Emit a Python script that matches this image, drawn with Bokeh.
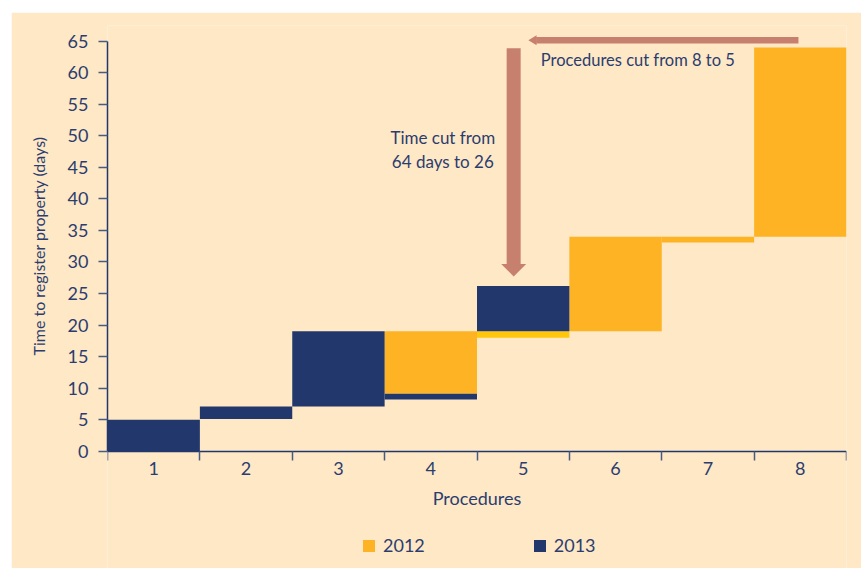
from bokeh.plotting import figure
from bokeh.models import Range1d, FixedTicker, Legend, LegendItem, ColumnDataSource, Title
from bokeh.core.properties import value
from bokeh.embed import file_html
from bokeh.resources import INLINE

# ---- data ----
procedures = [1, 2, 3, 4, 5, 6, 7, 8]
y_ticks = [0, 5, 10, 15, 20, 25, 30, 35, 40, 45, 50, 55, 60, 65]

# 2012 floating bars (bottom, top) by procedure
p2012_proc = [4, 5, 6, 7, 8]
p2012_bottom = [9.1, 18.0, 19.0, 33.1, 34.0]
p2012_top = [19.0, 19.0, 34.0, 34.0, 64.0]

# 2013 floating bars
p2013_proc = [1, 2, 3, 4, 5]
p2013_bottom = [0.0, 5.1, 7.1, 8.2, 19.0]
p2013_top = [5.0, 7.1, 19.0, 9.1, 26.2]

series = ["2012", "2013"]
y_title = "Time to register property (days)"

# ---- styles ----
BG = "#FEE8C6"
YELLOW = "#FDB323"
YELLOW_STRIP = "#FFC60B"
NAVY = "#22376B"
TEXT = "#2B3D6F"
ARROW = "#C8806E"
FONT = "Lato"

# frame extends below zero so that the x axis (pinned at y=0) and legend fit inside it
p = figure(width=850, height=556, output_backend="svg", toolbar_location=None,
           x_range=Range1d(0.5, 8.5), y_range=Range1d(-18.6, 67.5),
           min_border_left=96, min_border_right=15, min_border_top=13,
           min_border_bottom=0)
p.styles = {"margin-left": "11px", "margin-top": "12px"}
p.background_fill_color = BG
p.border_fill_color = BG
p.outline_line_color = None
p.grid.visible = False

c2012 = [YELLOW_STRIP if b == 18.0 else YELLOW for b in p2012_bottom]
src12 = ColumnDataSource(dict(x=p2012_proc, bottom=p2012_bottom, top=p2012_top, color=c2012))
src13 = ColumnDataSource(dict(x=p2013_proc, bottom=p2013_bottom, top=p2013_top))

r12 = p.vbar(x="x", bottom="bottom", top="top", width=1.0, source=src12,
             fill_color="color", line_color=None)
r13 = p.vbar(x="x", bottom="bottom", top="top", width=1.0, source=src13,
             fill_color=NAVY, line_color=None)

# axes
xa = p.xaxis[0]
xa.fixed_location = 0
xa.ticker = FixedTicker(ticks=procedures, minor_ticks=[v - 0.5 for v in procedures] + [8.5])
xa.major_tick_out = 0
xa.major_tick_in = 0
xa.minor_tick_out = 9
xa.minor_tick_in = 0
xa.axis_label = "Procedures"

ya = p.yaxis[0]
ya.ticker = FixedTicker(ticks=y_ticks)
ya.bounds = (0, 65)
ya.major_tick_out = 9
ya.major_tick_in = 0

for ax in (xa, ya):
    ax.axis_line_color = NAVY
    ax.axis_line_width = 1.5
    ax.major_tick_line_color = "#4A5A85"
    ax.major_tick_line_width = 1.5
    ax.minor_tick_line_width = 1.5
    ax.major_label_text_color = TEXT
    ax.major_label_text_font = FONT
    ax.major_label_text_font_size = "18px"
    ax.axis_label_text_color = TEXT
    ax.axis_label_text_font = FONT
    ax.axis_label_text_font_size = "18px"
    ax.axis_label_text_font_style = "normal"
xa.minor_tick_line_color = "#4A5A85"
ya.minor_tick_line_color = None

xa.major_label_standoff = 2
xa.axis_label_standoff = 8
ya.major_label_standoff = 10

# y-axis title, centred on the 0-65 span of the axis (frame extends lower)
yt = Title(text=y_title, align="left", vertical_align="middle", offset=213, standoff=31,
           text_font=FONT, text_font_size="16px", text_font_style="normal", text_color=TEXT)
p.add_layout(yt, "left")

# ---- annotations (arrows + texts) ----
# vertical arrow: 64 days -> 26
vx = 4.897
p.segment(x0=[vx], y0=[63.9], x1=[vx], y1=[29.6], line_color=ARROW, line_width=14, line_cap="butt")
hw = 12.5 / 92.4
p.patch(x=[vx - hw, vx + hw, vx], y=[29.7, 29.7, 27.7], fill_color=ARROW, line_color=None)

# horizontal arrow: 8 procedures -> 5
hy = 65.15
p.segment(x0=[7.98], y0=[hy], x1=[5.14], y1=[hy], line_color=ARROW, line_width=6.5, line_cap="butt")
hh = 5.0 / 6.31
p.patch(x=[5.145, 5.145, 5.056], y=[hy - hh, hy + hh, hy], fill_color=ARROW, line_color=None)

p.text(x=[5.19], y=[62.0], text=["Procedures cut from 8 to 5"], text_font=value(FONT),
       text_font_size="16.5px", text_color=TEXT, text_align="left", text_baseline="middle")
p.text(x=[4.13], y=[47.9], text=["Time cut from\n64 days to 26"], text_font=value(FONT),
       text_font_size="17px", text_color=TEXT, text_align="center", text_baseline="middle",
       text_line_height=1.15)

legend = Legend(items=[LegendItem(label=series[0], renderers=[r12]),
                       LegendItem(label=series[1], renderers=[r13])],
                orientation="horizontal", location=(249, 7))
legend.glyph_width = 15
legend.glyph_height = 15
legend.label_standoff = 7
legend.spacing = 107
legend.label_text_font = FONT
legend.label_text_font_size = "18px"
legend.label_text_color = TEXT
legend.background_fill_alpha = 0
legend.border_line_alpha = 0
legend.margin = 0
legend.padding = 5
p.add_layout(legend, "center")

open("out.html", "w").write(file_html(p, INLINE))
